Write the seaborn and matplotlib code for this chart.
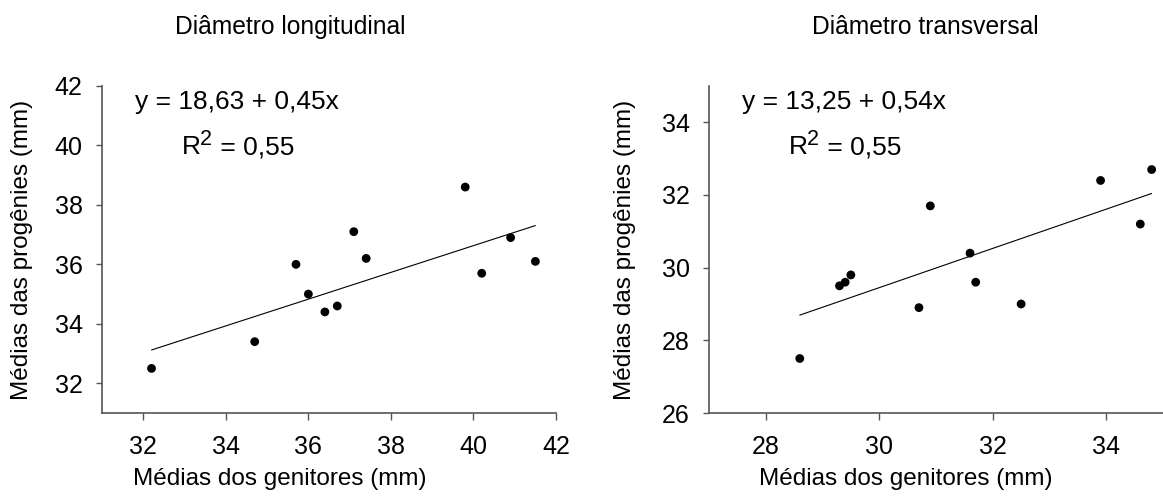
import numpy as np
import pandas as pd
import seaborn as sns
import matplotlib.pyplot as plt
from matplotlib.transforms import offset_copy

# Diâmetro longitudinal
long_genitores = [32.2, 34.7, 35.7, 36.0, 36.4, 36.7, 37.1, 37.4, 39.8, 40.2, 40.9, 41.5]
long_progenies = [32.5, 33.4, 36.0, 35.0, 34.4, 34.6, 37.1, 36.2, 38.6, 35.7, 36.9, 36.1]
long_coef = (18.63, 0.45)

# Diâmetro transversal
trans_genitores = [28.6, 29.3, 29.4, 29.5, 30.7, 30.9, 31.6, 31.7, 32.5, 33.9, 34.6, 34.8]
trans_progenies = [27.5, 29.5, 29.6, 29.8, 28.9, 31.7, 30.4, 29.6, 29.0, 32.4, 31.2, 32.7]
trans_coef = (13.25, 0.54)

sns.set_style("ticks")
plt.rcParams['font.family'] = ['Liberation Sans', 'DejaVu Sans']
plt.rcParams['text.color'] = 'black'
plt.rcParams['axes.labelcolor'] = 'black'


def painel(ax, x, y, coef, titulo, eq, xlim, ylim, xticks, yticks, xlab_x, ylab_x, tit_x):
    df = pd.DataFrame({"x": x, "y": y})
    sns.scatterplot(data=df, x="x", y="y", ax=ax, color="black", s=40, edgecolor="none", zorder=3)
    # reta de regressão a partir da equação
    xs = np.array([min(x), max(x)])
    linha = pd.DataFrame({"x": xs, "y": coef[0] + coef[1] * xs})
    sns.lineplot(data=linha, x="x", y="y", ax=ax, color="black", linewidth=0.8)
    ax.set_xlim(*xlim)
    ax.set_ylim(*ylim)
    ax.set_xticks(xticks)
    ax.set_yticks(yticks)
    ax.tick_params(axis="x", labelsize=18, length=5, width=1, pad=11, color="#555555", labelcolor="black")
    ax.tick_params(axis="y", labelsize=18, length=4, width=1, pad=10, color="#555555", labelcolor="black")
    for s in ["top", "right"]:
        ax.spines[s].set_visible(False)
    for s in ["left", "bottom"]:
        ax.spines[s].set_color("#555555")
        ax.spines[s].set_linewidth(1.2)
    ax.set_xlabel("Médias dos genitores (mm)", fontsize=17.5)
    ax.set_ylabel("Médias das progênies (mm)", fontsize=17.5)
    ax.xaxis.set_label_coords(xlab_x, -0.168)
    ax.xaxis.label.set_va("top")
    ax.yaxis.set_label_coords(ylab_x, 0.5)
    ax.yaxis.label.set_va("center")
    ax.text(tit_x, 1.16, titulo, transform=ax.transAxes, ha="center", va="baseline", fontsize=17.7)
    ax.text(0.073, 0.93, eq, transform=ax.transAxes, ha="left", va="baseline", fontsize=19)
    # R² com o expoente quase do mesmo tamanho, como no original
    ax.text(0.175, 0.792, "R", transform=ax.transAxes, ha="left", va="baseline", fontsize=19)
    t2 = offset_copy(ax.transAxes, fig=ax.figure, x=13.2, y=6.5, units="points")
    ax.text(0.175, 0.792, "2", transform=t2, ha="left", va="baseline", fontsize=15.5)
    t3 = offset_copy(ax.transAxes, fig=ax.figure, x=22.5, y=0, units="points")
    ax.text(0.175, 0.792, " = 0,55", transform=t3, ha="left", va="baseline", fontsize=19)


fig = plt.figure(figsize=(11.63, 4.97), dpi=100)
ax1 = fig.add_axes([0.0877, 0.169, 0.3904, 0.658])
ax2 = fig.add_axes([0.6096, 0.169, 0.3904, 0.658])

painel(ax1, long_genitores, long_progenies, long_coef, "Diâmetro longitudinal",
       "y = 18,63 + 0,45x", (31, 42), (31, 42), [32, 34, 36, 38, 40, 42],
       [32, 34, 36, 38, 40, 42], 0.392, -0.176, 0.414)
painel(ax2, trans_genitores, trans_progenies, trans_coef, "Diâmetro transversal",
       "y = 13,25 + 0,54x", (27, 35), (26, 35), [28, 30, 32, 34],
       [26, 28, 30, 32, 34], 0.434, -0.185, 0.476)

fig.savefig("out.png", dpi=100)
